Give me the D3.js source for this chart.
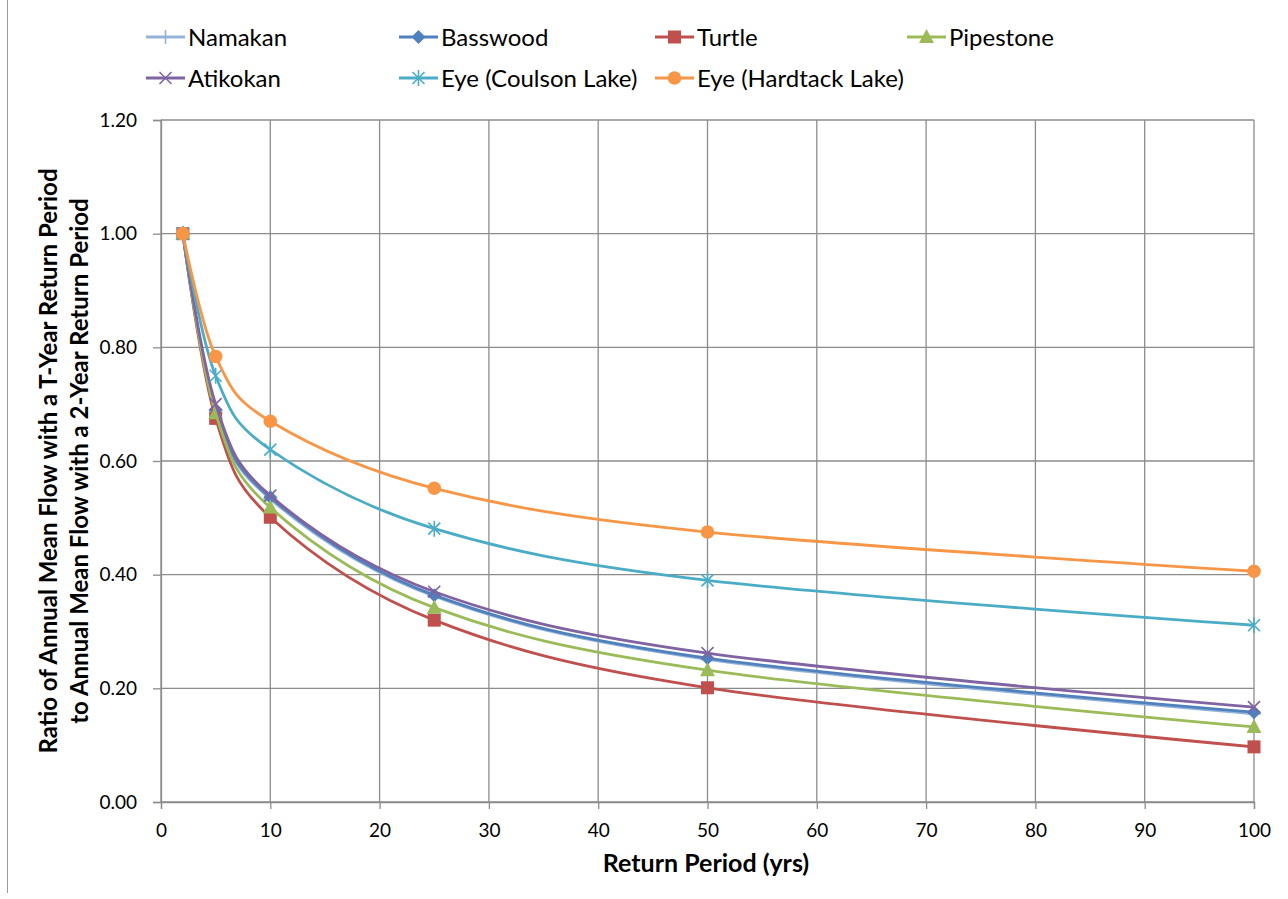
<!DOCTYPE html>
<html>
<head>
<meta charset="utf-8">
<script src="https://cdn.jsdelivr.net/npm/d3@7"></script>
<style>
  html, body { margin: 0; padding: 0; background: #fff; }
  svg { display: block; }
  text { font-family: Lato, "Open Sans", "Liberation Sans", sans-serif; fill: #000; }
</style>
</head>
<body>
<svg id="chart" width="1288" height="899"></svg>
<script>
// ---- data ----
const returnPeriods = [2, 5, 10, 25, 50, 100];
const seriesNames = ["Namakan", "Basswood", "Turtle", "Pipestone", "Atikokan", "Eye (Coulson Lake)", "Eye (Hardtack Lake)"];
const namakan   = [1.00, 0.688, 0.533, 0.362, 0.251, 0.155];
const basswood  = [1.00, 0.690, 0.536, 0.364, 0.253, 0.158];
const turtle    = [1.00, 0.675, 0.501, 0.320, 0.201, 0.097];
const pipestone = [1.00, 0.684, 0.518, 0.342, 0.232, 0.132];
const atikokan  = [1.00, 0.700, 0.539, 0.370, 0.262, 0.167];
const coulson   = [1.00, 0.750, 0.620, 0.481, 0.390, 0.311];
const hardtack  = [1.00, 0.784, 0.670, 0.552, 0.475, 0.406];
const xTicks = [0, 10, 20, 30, 40, 50, 60, 70, 80, 90, 100];
const yTicks = [0, 0.2, 0.4, 0.6, 0.8, 1.0, 1.2];
const xTitle = "Return Period (yrs)";
const yTitleLines = ["Ratio of Annual Mean Flow with a T-Year Return Period", "to Annual Mean Flow with a 2-Year Return Period"];

const seriesValues = [namakan, basswood, turtle, pipestone, atikokan, coulson, hardtack];
const colors = ["#95B3D7", "#4F81BD", "#C0504D", "#9BBB59", "#8064A2", "#4BACC6", "#F79646"];
const markers = ["plus", "diamond", "square", "triangle", "x", "asterisk", "circle"];

// ---- layout ----
const svg = d3.select("#chart");
const L = 161, R = 1254, T = 120, B = 802;
const x = d3.scaleLinear().domain([0, 100]).range([L, R]);
const y = d3.scaleLinear().domain([0, 1.2]).range([B, T]);

// outer border (left edge visible)
svg.append("line").attr("x1", 7.5).attr("x2", 7.5).attr("y1", 0).attr("y2", 893)
  .attr("stroke", "#9a9a9a").attr("stroke-width", 1);

const gridColor = "#8c8c8c";
// gridlines
svg.append("g").selectAll("line.v").data(xTicks).join("line")
  .attr("x1", d => x(d)).attr("x2", d => x(d)).attr("y1", T).attr("y2", B)
  .attr("stroke", gridColor).attr("stroke-width", 1.3);
svg.append("g").selectAll("line.h").data(yTicks).join("line")
  .attr("x1", L).attr("x2", R).attr("y1", d => y(d)).attr("y2", d => y(d))
  .attr("stroke", gridColor).attr("stroke-width", 1.3);

// axes
const xAxis = d3.axisBottom(x).tickValues(xTicks).tickFormat(d3.format("d")).tickSizeOuter(0).tickSize(7).tickPadding(15);
const yAxis = d3.axisLeft(y).tickValues(yTicks).tickFormat(d3.format(".2f")).tickSizeOuter(0).tickSize(8).tickPadding(16);
const gx = svg.append("g").attr("transform", `translate(0,${B})`).call(xAxis);
const gy = svg.append("g").attr("transform", `translate(${L},0)`).call(yAxis);
[gx, gy].forEach(g => {
  g.select(".domain").attr("stroke", gridColor).attr("stroke-width", 1.3);
  g.selectAll(".tick line").attr("stroke", gridColor).attr("stroke-width", 1.3);
  g.selectAll(".tick text").style("font-family", "Lato, sans-serif").style("font-size", "19px").attr("fill", "#000");
});

// axis titles
svg.append("text").attr("x", 706).attr("y", 872).attr("text-anchor", "middle")
  .style("font-size", "25px").style("font-weight", "bold").text(xTitle);
const yt = svg.append("g").attr("transform", `translate(0,${(T + B) / 2}) rotate(-90)`);
yTitleLines.forEach((s, i) => {
  yt.append("text").attr("x", 0).attr("y", 57 + i * 31).attr("text-anchor", "middle")
    .style("font-size", "24px").style("font-weight", "bold").text(s);
});

// marker drawing
function drawMarker(g, type, color, cx, cy, scale) {
  const s = scale || 1;
  if (type === "plus") {
    g.append("path").attr("d", `M${cx - 7 * s},${cy}H${cx + 7 * s}M${cx},${cy - 7 * s}V${cy + 7 * s}`)
      .attr("stroke", color).attr("stroke-width", 1.6).attr("fill", "none");
  } else if (type === "diamond") {
    g.append("path").attr("d", `M${cx},${cy - 7 * s}L${cx + 7 * s},${cy}L${cx},${cy + 7 * s}L${cx - 7 * s},${cy}Z`)
      .attr("fill", color);
  } else if (type === "square") {
    g.append("rect").attr("x", cx - 6.5 * s).attr("y", cy - 6.5 * s).attr("width", 13 * s).attr("height", 13 * s)
      .attr("fill", color);
  } else if (type === "triangle") {
    g.append("path").attr("d", `M${cx},${cy - 8 * s}L${cx + 7.5 * s},${cy + 6 * s}L${cx - 7.5 * s},${cy + 6 * s}Z`)
      .attr("fill", color);
  } else if (type === "x") {
    g.append("path").attr("d", `M${cx - 6 * s},${cy - 6 * s}L${cx + 6 * s},${cy + 6 * s}M${cx + 6 * s},${cy - 6 * s}L${cx - 6 * s},${cy + 6 * s}`)
      .attr("stroke", color).attr("stroke-width", 1.6).attr("fill", "none");
  } else if (type === "asterisk") {
    g.append("path").attr("d", `M${cx - 6 * s},${cy - 6 * s}L${cx + 6 * s},${cy + 6 * s}M${cx + 6 * s},${cy - 6 * s}L${cx - 6 * s},${cy + 6 * s}M${cx},${cy - 8 * s}V${cy + 8 * s}`)
      .attr("stroke", color).attr("stroke-width", 1.6).attr("fill", "none");
  } else if (type === "circle") {
    g.append("circle").attr("cx", cx).attr("cy", cy).attr("r", 6.8 * s).attr("fill", color);
  }
}

// series
const line = d3.line().x(d => x(d[0])).y(d => y(d[1])).curve(d3.curveCatmullRom.alpha(0));
const plot = svg.append("g");
seriesValues.forEach((vals, i) => {
  const pts = returnPeriods.map((p, j) => [p, vals[j]]);
  const g = plot.append("g");
  g.append("path").datum(pts).attr("d", line).attr("fill", "none")
    .attr("stroke", colors[i]).attr("stroke-width", 2.8);
  pts.forEach(p => drawMarker(g, markers[i], colors[i], x(p[0]), y(p[1])));
});

// legend
const legendPos = [
  [146, 37], [399, 37], [655, 37], [907, 37],
  [146, 78], [399, 78], [655, 78]
];
seriesNames.forEach((name, i) => {
  const [lx, ly] = legendPos[i];
  const g = svg.append("g");
  g.append("line").attr("x1", lx).attr("x2", lx + 39).attr("y1", ly).attr("y2", ly)
    .attr("stroke", colors[i]).attr("stroke-width", 2.8);
  drawMarker(g, markers[i], colors[i], lx + 19.5, ly);
  g.append("text").attr("x", lx + 42).attr("y", ly).attr("dy", "0.36em")
    .style("font-size", "24px").text(name);
});
</script>
</body>
</html>
